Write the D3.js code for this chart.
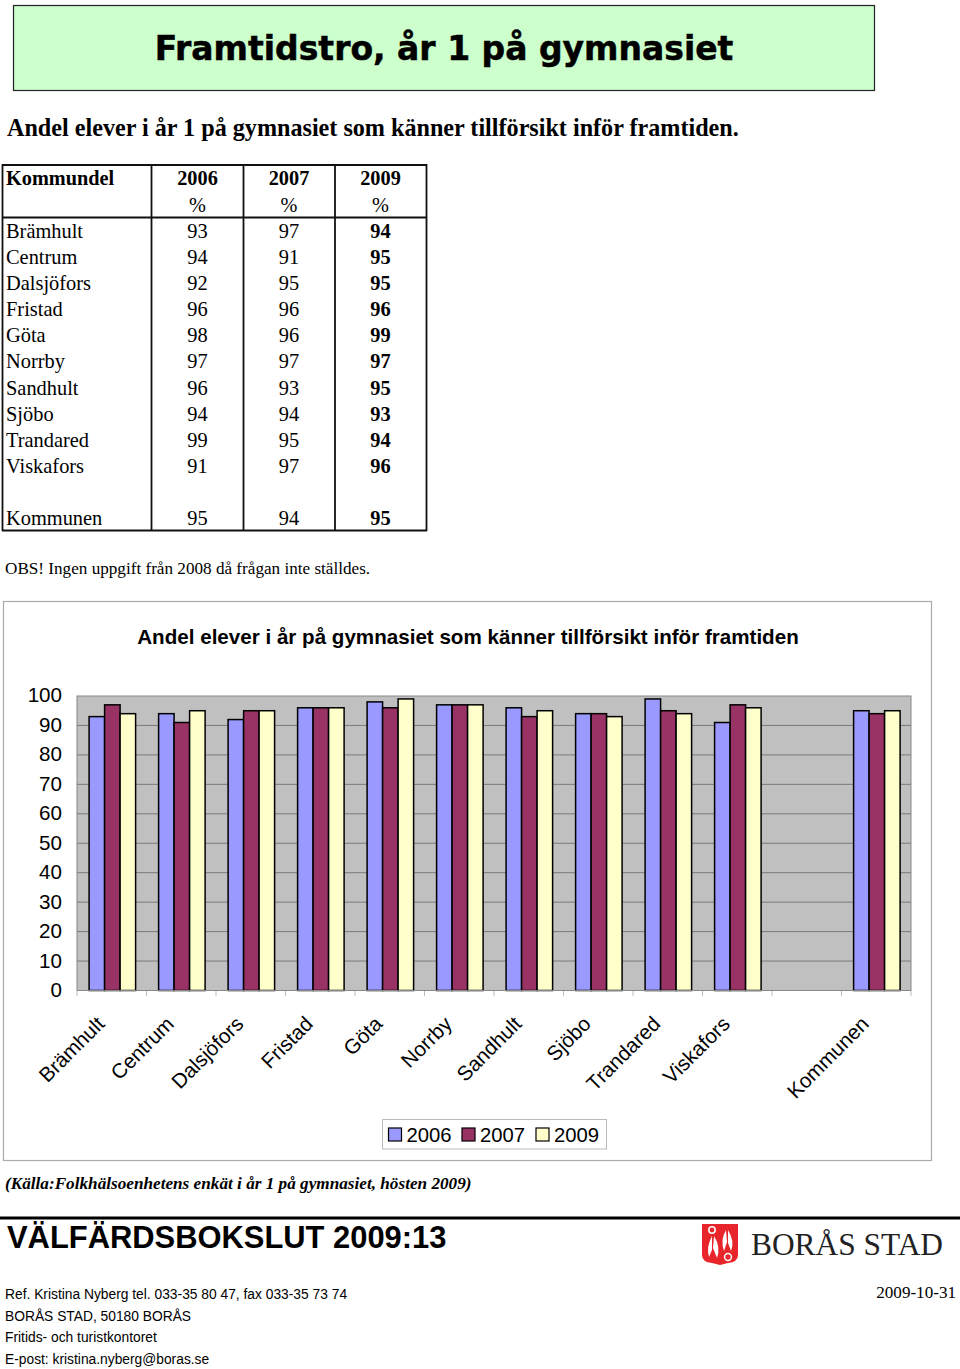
<!DOCTYPE html>
<html><head><meta charset="utf-8">
<script src="https://cdn.jsdelivr.net/npm/d3@7/dist/d3.min.js"></script>
<style>html,body{margin:0;padding:0;background:#fff}svg{display:block}</style></head>
<body><svg id="c" width="960" height="1369"></svg>
<script>
const categories=["Brämhult","Centrum","Dalsjöfors","Fristad","Göta","Norrby","Sandhult","Sjöbo","Trandared","Viskafors","","Kommunen"];
const years=["2006","2007","2009"];
const v2006=[93,94,92,96,98,97,96,94,99,91,null,95];
const v2007=[97,91,95,96,96,97,93,94,95,97,null,94];
const v2009=[94,95,95,96,99,97,95,93,94,96,null,95];
const series=[v2006,v2007,v2009];
const colors=["#9999ff","#993366","#ffffcc"];
const yTicks=[0,10,20,30,40,50,60,70,80,90,100];
const footerLines=["Ref. Kristina Nyberg tel. 033-35 80 47, fax 033-35 73 74","BORÅS STAD, 50180 BORÅS","Fritids- och turistkontoret","E-post: kristina.nyberg@boras.se"];

const SERIF="'Liberation Serif',serif",SANS="'Liberation Sans',sans-serif";
const svg=d3.select("#c");
const T=(x,y,s,size,opt={})=>svg.append("text").attr("x",x).attr("y",y).text(s)
  .attr("font-family",opt.f||SERIF).attr("font-size",size).attr("font-weight",opt.w||"normal")
  .attr("font-style",opt.i?"italic":"normal").attr("text-anchor",opt.a||"start").attr("fill",opt.c||"#000");
const L=(x1,y1,x2,y2,c,w)=>svg.append("line").attr("x1",x1).attr("y1",y1).attr("x2",x2).attr("y2",y2).attr("stroke",c).attr("stroke-width",w);

// banner
svg.append("rect").attr("x",13.5).attr("y",5.5).attr("width",861).attr("height",85).attr("fill","#ccffcc").attr("stroke","#222").attr("stroke-width",1.2);
T(444,59.5,"Framtidstro, år 1 på gymnasiet",33,{f:"'DejaVu Sans',sans-serif",w:"bold",a:"middle"}).attr("stroke","#000").attr("stroke-width",0.5);
T(7,136,"Andel elever i år 1 på gymnasiet som känner tillförsikt inför framtiden.",24.15,{w:"bold"});

// table
const rowY=d3.scaleLinear().domain([0,1]).range([185.4,211.55]);
const colX=[197.5,289,380.5];
const rows=categories.map((c,i)=>({c,i})).filter(d=>d.c);
T(6,rowY(0),"Kommundel",20.3,{w:"bold"});
years.forEach((y,j)=>{T(colX[j],rowY(0),y,20.3,{w:"bold",a:"middle"});T(colX[j],rowY(1),"%",20.3,{a:"middle"});});
rows.forEach(d=>{
  const r=d.i+2;
  T(6,rowY(r),d.c,20.4);
  series.forEach((s,j)=>T(colX[j],rowY(r),s[d.i],20.4,{a:"middle",w:j==2?"bold":"normal"}));
});
[2.5,151.5,243.5,335,426.5].forEach(x=>L(x,164,x,531,"#111",1.8));
L(2,165,427,165,"#111",1.8);L(2,217.5,427,217.5,"#111",1.8);L(2,530.5,427,530.5,"#111",1.8);
T(5,574,"OBS! Ingen uppgift från 2008 då frågan inte ställdes.",17.15);

// chart frame
svg.append("rect").attr("x",3.5).attr("y",601.5).attr("width",928).attr("height",559).attr("fill","#fff").attr("stroke","#aaa").attr("stroke-width",1.2);
T(468,644,"Andel elever i år på gymnasiet som känner tillförsikt inför framtiden",20.6,{f:SANS,w:"bold",a:"middle"});

const x=d3.scaleBand().domain(d3.range(categories.length)).range([77,911]);
const y=d3.scaleLinear().domain([0,100]).range([990.5,696]);
const bar=d3.scaleBand().domain([0,1,2]).range([0,46.5]);
const g=svg.append("g");
g.append("rect").attr("x",77).attr("y",696).attr("width",834).attr("height",294.5).attr("fill","#c0c0c0").attr("stroke","#888").attr("stroke-width",1);
g.selectAll("line.g").data(yTicks.slice(1,-1)).join("line").attr("x1",77).attr("x2",911).attr("y1",d=>y(d)).attr("y2",d=>y(d)).attr("stroke","#7a7a7a").attr("stroke-width",1);
series.forEach((s,j)=>{
  g.selectAll("rect.s"+j).data(s.map((v,i)=>({v,i})).filter(d=>d.v!=null)).join("rect").attr("class","s"+j)
   .attr("x",d=>x(d.i)+(x.bandwidth()-46.5)/2+bar(j)+0.6).attr("y",d=>y(d.v)).attr("width",bar.bandwidth()).attr("height",d=>y(0)-y(d.v))
   .attr("fill",colors[j]).attr("stroke","#000").attr("stroke-width",1.5);
});
const yAxis=d3.axisLeft(y).tickValues(yTicks).tickSize(0).tickPadding(15);
const ya=svg.append("g").attr("transform","translate(77,-0.6)").call(yAxis);
ya.select(".domain").remove();
ya.selectAll("text").attr("font-family",SANS).attr("font-size",20.6).attr("fill","#000");
// x ticks + rotated labels
d3.range(categories.length+1).forEach(i=>{const px=77+i*x.step();L(px,990.5,px,996,"#bbb",1);});
L(77,990.5,911,990.5,"#888",1);
rows.forEach(d=>{
  const px=x(d.i)+x.bandwidth()/2-16.8,py=1014.5;
  svg.append("text").attr("transform",`translate(${px},${py}) rotate(-45)`).attr("text-anchor","end").attr("dominant-baseline","hanging")
   .attr("font-family",SANS).attr("font-size",20.6).text(d.c);
});
// legend
svg.append("rect").attr("x",382.5).attr("y",1119.5).attr("width",224).attr("height",29.5).attr("fill","#fff").attr("stroke","#bbb").attr("stroke-width",1);
[388.5,462,536].forEach((lx,j)=>{
  svg.append("rect").attr("x",lx).attr("y",1128).attr("width",13).attr("height",13).attr("fill",colors[j]).attr("stroke","#000").attr("stroke-width",1.2);
  T(lx+18,1142,years[j],20.3,{f:SANS});
});

T(5,1189,"(Källa:Folkhälsoenhetens enkät i år 1 på gymnasiet, hösten 2009)",17.2,{w:"bold",i:true});
L(0,1218,960,1218,"#000",3.2);
T(7,1248,"VÄLFÄRDSBOKSLUT 2009:13",30.9,{f:SANS,w:"bold"});

// logo
svg.append("path").attr("d","M702,1224H738V1255Q738,1262 728,1263L720,1265L712,1263Q702,1262 702,1255Z").attr("fill","#e8252a");
svg.append("path").attr("d","M712,1236Q706,1247 709,1257L712,1250Z M714,1236Q721,1247 717,1258L713,1248Z M726,1230Q720,1240 724,1251L727,1242Z M728,1230Q735,1241 731,1251L728,1243Z").attr("fill","#fff");
svg.append("circle").attr("cx",712).attr("cy",1230).attr("r",3.2).attr("fill","none").attr("stroke","#fff").attr("stroke-width",1.5);
svg.append("circle").attr("cx",728).attr("cy",1257).attr("r",3.4).attr("fill","none").attr("stroke","#fff").attr("stroke-width",1.5);
T(751,1255,"BORÅS STAD",31.4,{c:"#222"});

footerLines.forEach((s,i)=>T(5,1299+i*21.6,s,13.8,{f:SANS}));
T(956,1298,"2009-10-31",17.1,{a:"end"});
</script></body></html>
